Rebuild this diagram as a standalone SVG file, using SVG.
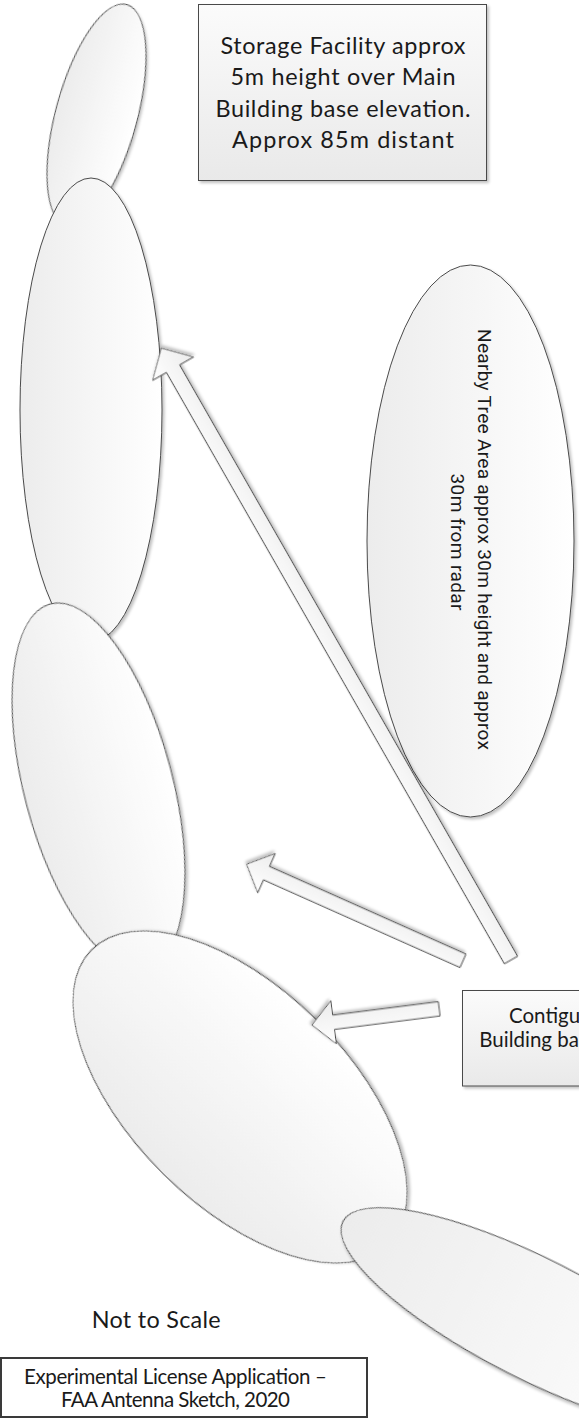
<svg xmlns="http://www.w3.org/2000/svg" width="579" height="1419" viewBox="0 0 579 1419">
<style>
.shape{stroke:#4a4a4a;stroke-width:1;filter:url(#sh)}
.ell{fill:url(#gE)}
.box{fill:url(#gB)}
.arr{fill:url(#gA);stroke:#4a4a4a;stroke-width:1;filter:url(#sh)}
.lato{font-family:Lato,"Open Sans","Liberation Sans",sans-serif;fill:#1a1a1a}
.tree{font-family:Roboto,"Liberation Sans",sans-serif;fill:#1a1a1a;font-size:19px}
</style>
<defs>
<linearGradient id="gE" x1="0" y1="0" x2="1" y2="0">
<stop offset="0" stop-color="#ececec"/><stop offset="1" stop-color="#ffffff"/>
</linearGradient>
<linearGradient id="gB" x1="0" y1="0" x2="0" y2="1">
<stop offset="0" stop-color="#fbfbfb"/><stop offset="1" stop-color="#e9e9e9"/>
</linearGradient>
<linearGradient id="gA" x1="0" y1="0" x2="0" y2="1">
<stop offset="0" stop-color="#ffffff"/><stop offset="1" stop-color="#ececec"/>
</linearGradient>
<filter id="sh" x="-10%" y="-10%" width="130%" height="130%">
<feGaussianBlur in="SourceAlpha" stdDeviation="1.5"/>
<feOffset dx="2" dy="2" result="o"/>
<feComponentTransfer><feFuncA type="linear" slope="0.25"/></feComponentTransfer>
<feMerge><feMergeNode/><feMergeNode in="SourceGraphic"/></feMerge>
</filter>
</defs>
<rect width="579" height="1419" fill="#ffffff"/>

<g id="tree-area">
<ellipse class="shape ell" cx="470.5" cy="541" rx="103.5" ry="276"/>
<text class="tree" transform="translate(478.3,542) rotate(90)" text-anchor="middle">
<tspan x="0" y="0" textLength="421">Nearby Tree Area approx 30m height and approx</tspan>
<tspan x="0" y="27.3" textLength="137">30m from radar</tspan>
</text>
</g>

<g id="beam-a"><ellipse class="shape ell" cx="0" cy="0" rx="40.7" ry="114.5" transform="translate(96.5,115) rotate(15.25)"/></g>
<g id="beam-b"><ellipse class="shape ell" cx="91" cy="410" rx="71" ry="232"/></g>
<g id="beam-c"><ellipse class="shape ell" cx="0" cy="0" rx="74.2" ry="188.8" transform="translate(98.5,786.5) rotate(-14.8)"/></g>
<g id="beam-d"><ellipse class="shape ell" cx="0" cy="0" rx="108.6" ry="209" transform="translate(240,1097) rotate(-45.3)"/></g>
<g id="beam-e"><ellipse class="shape ell" cx="0" cy="0" rx="215" ry="60" transform="translate(534.5,1319) rotate(27)"/></g>

<g id="storage-facility">
<rect class="shape box" x="198.5" y="4.5" width="288" height="176"/>
<g class="lato" font-size="23.4" text-anchor="middle">
<text x="343" y="53.5" textLength="245">Storage Facility approx</text>
<text x="343" y="85" textLength="225">5m height over Main</text>
<text x="343" y="116.5" textLength="255">Building base elevation.</text>
<text x="343" y="148" textLength="222">Approx 85m distant</text>
</g>
</g>

<g id="contiguous-building">
<rect class="shape box" x="462.5" y="990.5" width="140" height="95.5"/>
<g class="lato" font-size="20.5">
<text x="509" y="1023.3">Contiguo</text>
<text x="479.3" y="1046.7">Building bas</text>
</g>
</g>

<g id="connectors">
<polygon class="arr" transform="translate(511,960) rotate(-119.75)" points="0,-7.6 681.1,-7.6 681.1,-23.5 704.6,0 681.1,23.5 681.1,7.6 0,7.6"/>
<polygon class="arr" transform="translate(463,960.8) rotate(-155.96)" points="0,-7.3 215.2,-7.3 215.2,-21.5 236.9,0 215.2,21.5 215.2,7.3 0,7.3"/>
<polygon class="arr" transform="translate(439.2,1008.8) rotate(172.74)" points="0,-7.2 106.5,-7.2 106.5,-21.7 128.2,0 106.5,21.7 106.5,7.2 0,7.2"/>
</g>

<g id="scale-note">
<text class="lato" x="156.2" y="1328.3" font-size="23.4" text-anchor="middle" textLength="129">Not to Scale</text>
</g>

<g id="title-box">
<rect x="1" y="1358" width="366" height="59" fill="#ffffff" stroke="#3a3a3a" stroke-width="2"/>
<g class="lato" font-size="20.5" text-anchor="middle">
<text x="175.4" y="1383.5" textLength="303">Experimental License Application –</text>
<text x="175.5" y="1406.7" textLength="229">FAA Antenna Sketch, 2020</text>
</g>
</g>
</svg>
